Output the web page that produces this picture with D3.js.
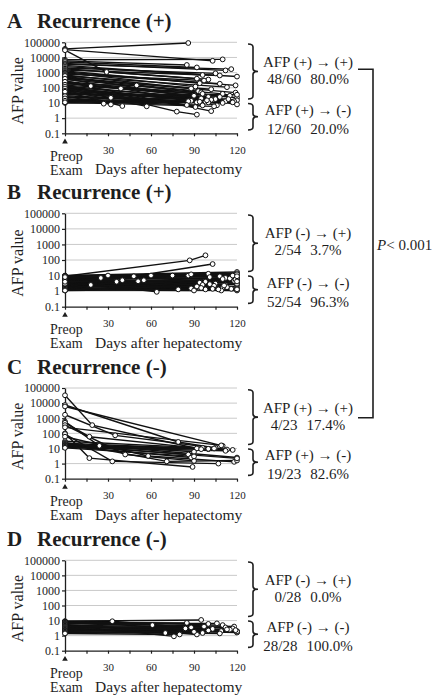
<!DOCTYPE html>
<html>
<head>
<meta charset="utf-8">
<script src="https://cdn.jsdelivr.net/npm/d3@7"></script>
<style>
  body { margin: 0; background: #fff; }
  svg { display: block; }
  text { font-family: "Liberation Serif", "Times New Roman", serif; fill: #1e1e1e; }
</style>
</head>
<body>
<div id="chart"></div>
<script>
// each patient: preop value (day 0), then day, value pairs of the follow-up points
var panelA = [
  [37000, 86, 90000], [33000, 103, 6000], [30000, 29, 1100, 92, 400], [7000, 110, 7500],
  [6000, 85, 3200], [5000, 92, 2200], [4000, 112, 1400], [3500, 116, 1700],
  [3000, 96, 700], [2500, 120, 550], [2000, 105, 900], [1800, 100, 350],
  [1500, 108, 650], [1300, 94, 200], [1100, 119, 145], [1000, 91, 120],
  [900, 108, 185], [800, 97, 300], [700, 88, 90], [600, 113, 110],
  [500, 119, 48], [450, 93, 60], [400, 102, 80], [350, 110, 40],
  [300, 18, 130, 95, 50], [260, 120, 22], [220, 90, 30], [200, 39, 90, 100, 25],
  [180, 50, 145, 96, 40], [150, 115, 30], [130, 105, 18], [110, 120, 15],
  [100, 88, 14], [90, 112, 13], [80, 32, 22, 98, 12], [70, 95, 20],
  [60, 118, 13], [50, 102, 16], [45, 92, 11], [40, 108, 25],
  [35, 120, 35], [30, 86, 13], [25, 100, 11], [22, 114, 18],
  [18, 94, 12], [15, 110, 10], [12, 99, 15], [10, 117, 11],
  [600, 120, 8], [400, 106, 7], [250, 102, 2.9], [160, 78, 2.7, 92, 1.7],
  [120, 85, 7.3], [90, 91, 5.4], [65, 57, 6], [55, 40, 6.3],
  [28, 32, 8], [20, 27, 9], [14, 96, 7], [11, 104, 6]
];
var panelB = [
  [9, 87, 95, 98, 200], [8, 48, 9, 103, 55],
  [10, 120, 17], [9.5, 120, 14], [9, 100, 13], [9, 86, 10], [8.5, 120, 11], [8, 118, 9],
  [8, 36, 4, 120, 8], [7.5, 112, 7], [7, 120, 6], [7, 108, 9], [6.5, 51, 4.3, 120, 5],
  [6, 115, 6.5], [6, 98, 4], [5.5, 18, 2.5, 120, 4], [5.5, 120, 3.3], [5, 94, 3.5],
  [5, 40, 5, 105, 3], [4.5, 120, 2.6], [4.5, 96, 2.5], [4, 112, 2.4], [4, 64, 0.9],
  [3.8, 110, 1.6], [3.5, 120, 2], [3.5, 104, 2.2], [3.2, 93, 1.7], [3, 120, 1.5],
  [3, 109, 1.1], [2.8, 116, 1.4], [2.6, 88, 1.5], [2.5, 120, 1.2], [2.4, 98, 1.3],
  [2.2, 113, 1.8], [2, 120, 3], [2, 101, 2.8], [1.9, 92, 2], [1.8, 118, 4.5],
  [1.7, 107, 1.3], [1.6, 120, 7], [1.5, 95, 1.6], [1.5, 120, 1.1], [1.4, 103, 1.4],
  [1.3, 111, 2.3], [1.2, 120, 1.3], [1.2, 90, 1.1], [1.1, 79, 1.3], [1.1, 119, 5.5],
  [6, 30, 10, 120, 12], [7, 60, 10, 117, 10], [9, 75, 10, 101, 8], [8, 88, 12, 120, 9],
  [3, 25, 7, 110, 6], [4, 55, 5, 120, 4.2]
];
var panelC = [
  [33000, 19, 350, 92, 10], [7500, 79, 27, 105, 11], [6000, 110, 15], [1700, 35, 74, 113, 8.5],
  [600, 24, 15, 120, 2.5], [500, 17, 60, 100, 9], [350, 42, 4, 90, 1.5], [250, 109, 16],
  [100, 17, 2.3, 89, 0.6], [90, 33, 1.4, 107, 1], [60, 58, 3.2, 118, 1.3], [30, 96, 11],
  [25, 71, 1.4, 120, 1.6], [22, 117, 8], [20, 90, 6], [18, 100, 9.5],
  [17, 86, 4], [16, 120, 2.2], [15, 104, 10], [14, 88, 2.5],
  [13, 95, 9], [12, 112, 7], [11, 90, 3]
];
var panelD = [
  [9, 33, 9, 120, 1.8], [9, 95, 11], [8.5, 110, 5], [8, 120, 2], [8, 100, 6],
  [7.5, 85, 7], [7, 118, 4], [6.5, 106, 6.5], [6, 61, 5, 117, 3], [5.5, 92, 1.2],
  [5, 112, 3.5], [5, 76, 0.9], [4.5, 120, 1.7], [4, 103, 2.8], [4, 88, 3.5],
  [3.5, 115, 2.5], [3.2, 70, 1.5, 109, 2], [3, 97, 4], [2.8, 120, 1.6], [2.5, 100, 2.2],
  [2.4, 90, 1.8], [2.2, 113, 2.6], [2, 120, 1.9], [2, 84, 3], [1.8, 108, 1.4],
  [1.6, 96, 1.5], [1.5, 119, 2.3], [1.4, 80, 1.2]
];

var letters = ["A", "B", "C", "D"];
var titles = ["Recurrence (+)", "Recurrence (+)", "Recurrence (-)", "Recurrence (-)"];
var yTicks = [0.1, 1, 10, 100, 1000, 10000, 100000];
var yTickLabels = ["0.1", "1", "10", "100", "1000", "10000", "100000"];
var xTicks = [0, 15, 30, 45, 60, 75, 90, 105, 120];
var xTickLabels = ["", "", "30", "", "60", "", "90", "", "120"];
var upperLabels = ["AFP (+) \u2192 (+)", "AFP (-) \u2192 (+)", "AFP (+) \u2192 (+)", "AFP (-) \u2192 (+)"];
var upperCounts = ["48/60", "2/54", "4/23", "0/28"];
var upperPcts = ["80.0%", "3.7%", "17.4%", "0.0%"];
var lowerLabels = ["AFP (+) \u2192 (-)", "AFP (-) \u2192 (-)", "AFP (+) \u2192 (-)", "AFP (-) \u2192 (-)"];
var lowerCounts = ["12/60", "52/54", "19/23", "28/28"];
var lowerPcts = ["20.0%", "96.3%", "82.6%", "100.0%"];
var pLabel = "< 0.001";

var panels = [panelA, panelB, panelC, panelD];
var tops = [42.3, 213.3, 388, 560.3],
    bottoms = [133.3, 306.7, 478.7, 650.7];

var svg = d3.select("#chart").append("svg")
    .attr("width", 438)
    .attr("height", 695);

var x = d3.scaleLinear().domain([0, 120]).range([65, 237]);

function brace(g, bx, y0, y1) {
  var ym = (y0 + y1) / 2;
  g.append("path")
    .attr("fill", "none")
    .attr("stroke", "#1e1e1e")
    .attr("stroke-width", 1.6)
    .attr("d", "M" + (bx - 5) + "," + y0 + "Q" + bx + "," + y0 + " " + bx + "," + (y0 + 3) +
      "L" + bx + "," + (ym - 3) + "Q" + bx + "," + ym + " " + (bx + 5) + "," + ym +
      "Q" + bx + "," + ym + " " + bx + "," + (ym + 3) +
      "L" + bx + "," + (y1 - 3) + "Q" + bx + "," + y1 + " " + (bx - 5) + "," + y1);
}

function pairLine(g, cx, cy, left, right) {
  var t = g.append("text").attr("x", cx).attr("y", cy)
    .attr("text-anchor", "middle").style("font-size", "15px");
  t.append("tspan").text(left);
  t.append("tspan").attr("dx", 9).text(right);
}

panels.forEach(function(data, i) {
  var top = tops[i], bottom = bottoms[i];
  var y = d3.scaleLog().domain([0.1, 100000]).range([bottom, top]);
  var g = svg.append("g");

  // title
  g.append("text").attr("x", 7).attr("y", top - 14)
    .style("font-size", "21px").style("font-weight", "bold").text(letters[i]);
  g.append("text").attr("x", 37).attr("y", top - 14)
    .style("font-size", "21px").style("font-weight", "bold").text(titles[i]);

  // grid
  g.append("g").selectAll("line")
    .data(yTicks.slice(1))
    .enter().append("line")
      .attr("x1", x(0)).attr("x2", x(120))
      .attr("y1", function(d) { return y(d); })
      .attr("y2", function(d) { return y(d); })
      .attr("stroke", "#c4c4c4")
      .attr("stroke-width", 0.9);

  // axes
  var ya = g.append("g")
    .attr("transform", "translate(" + x(0) + ",0)")
    .call(d3.axisLeft(y).tickValues(yTicks)
      .tickFormat(function(d, j) { return yTickLabels[j]; })
      .tickSize(3).tickSizeOuter(0).tickPadding(2));
  var xa = g.append("g")
    .attr("transform", "translate(0," + bottom + ")")
    .call(d3.axisBottom(x).tickValues(xTicks)
      .tickFormat(function(d, j) { return xTickLabels[j]; })
      .tickSize(3).tickSizeOuter(0).tickPadding(10));
  [ya, xa].forEach(function(a) {
    a.select(".domain").attr("stroke", "#1e1e1e").attr("stroke-width", 1.3);
    a.selectAll(".tick line").attr("stroke", "#1e1e1e").attr("stroke-width", 1.2);
    a.selectAll("text").attr("fill", "#1e1e1e")
      .style("font-family", "'Liberation Serif', serif");
  });
  ya.selectAll("text").style("font-size", "12px");
  xa.selectAll("text").style("font-size", "11px");

  g.append("path")
    .attr("d", d3.symbol().type(d3.symbolTriangle).size(14))
    .attr("transform", "translate(" + x(0) + "," + (bottom + 8.5) + ")")
    .attr("fill", "#1e1e1e");

  g.append("text").attr("x", 50).attr("y", bottom + 27.5)
    .style("font-size", "14px").text("Preop");
  g.append("text").attr("x", 50).attr("y", bottom + 41.5)
    .style("font-size", "14px").text("Exam");
  g.append("text").attr("x", 95).attr("y", bottom + 41)
    .style("font-size", "15.5px").text("Days after hepatectomy");

  g.append("text")
    .attr("transform", "translate(23," + ((top + bottom) / 2 + 3) + ") rotate(-90)")
    .attr("text-anchor", "middle")
    .style("font-size", "16px").text("AFP value");

  // patients
  var pts = data.map(function(p) {
    var arr = [[0, p[0]]];
    for (var k = 1; k < p.length; k += 2) arr.push([p[k], p[k + 1]]);
    return arr;
  });
  var line = d3.line()
    .x(function(d) { return x(d[0]); })
    .y(function(d) { return y(d[1]); });
  g.append("g").selectAll("path")
    .data(pts)
    .enter().append("path")
      .attr("fill", "none")
      .attr("stroke", "#111")
      .attr("stroke-width", 1.4)
      .attr("d", line);
  g.append("g").selectAll("circle")
    .data(d3.merge(pts))
    .enter().append("circle")
      .attr("cx", function(d) { return x(d[0]); })
      .attr("cy", function(d) { return y(d[1]); })
      .attr("r", 2.4)
      .attr("fill", "#fff")
      .attr("stroke", "#111")
      .attr("stroke-width", 1);

  // right side brackets and counts
  brace(g, 253, y(100000) + 1.7, y(10) - 4);
  brace(g, 253, y(10) + 0.5, bottom - 3.3);
  g.append("text").attr("x", 308).attr("y", top + 24.5)
    .attr("text-anchor", "middle").style("font-size", "15px").text(upperLabels[i]);
  pairLine(g, 308, top + 42, upperCounts[i], upperPcts[i]);
  g.append("text").attr("x", 308).attr("y", bottom - 18.3)
    .attr("text-anchor", "middle").style("font-size", "15px").text(lowerLabels[i]);
  pairLine(g, 308, bottom + 0.6, lowerCounts[i], lowerPcts[i]);
});

// comparison bracket between A and C
svg.append("path")
  .attr("fill", "none")
  .attr("stroke", "#1e1e1e")
  .attr("stroke-width", 1.6)
  .attr("d", "M358,69.3H373V417.7H358");
var pt = svg.append("text").attr("x", 377).attr("y", 249.5).style("font-size", "15px");
pt.append("tspan").style("font-style", "italic").text("P");
pt.append("tspan").text(pLabel);
</script>
</body>
</html>
